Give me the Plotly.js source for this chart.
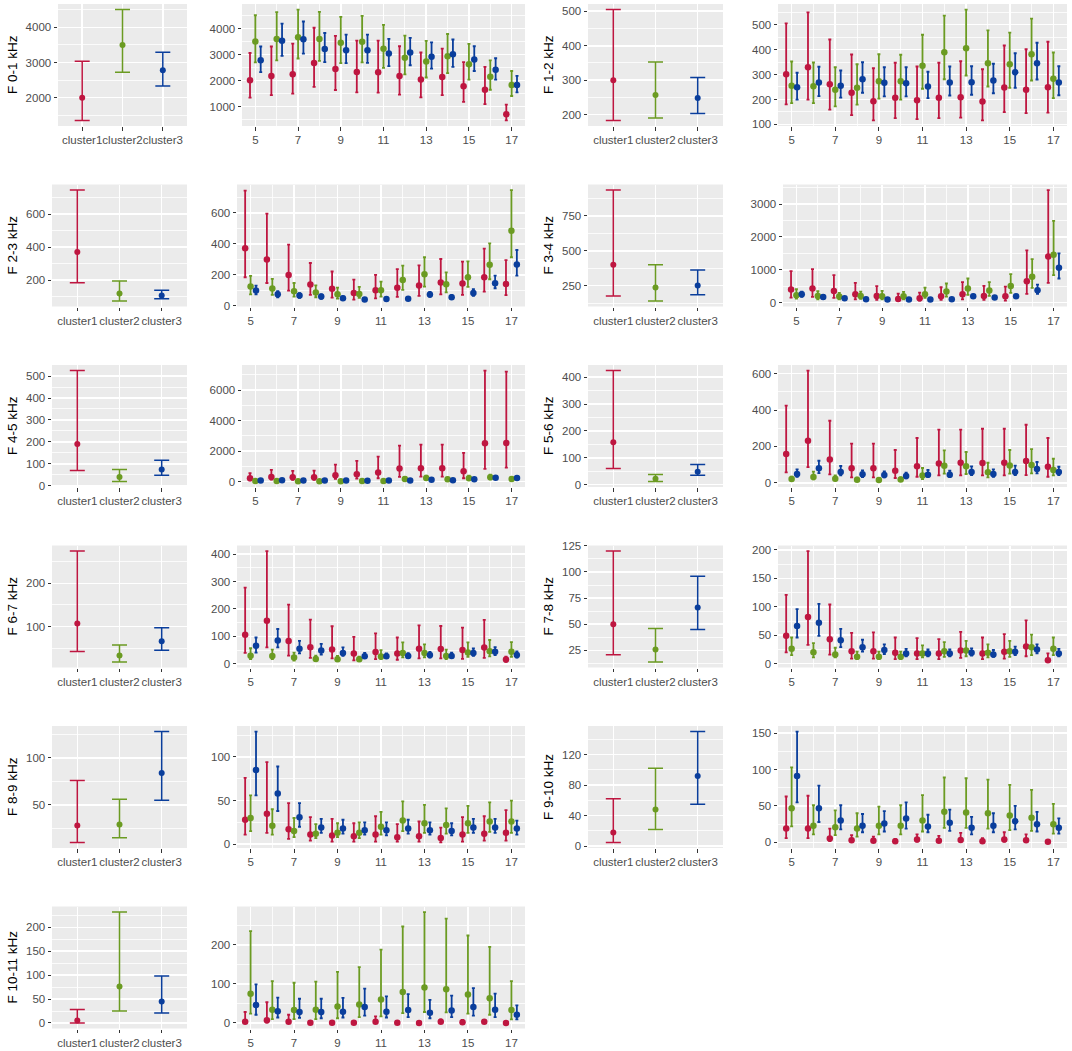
<!DOCTYPE html>
<html><head><meta charset="utf-8">
<script src="https://cdn.plot.ly/plotly-3.0.1.min.js"></script>
<style>html,body{margin:0;padding:0;background:#fff}#chart{width:1072px;height:1051px}</style>
</head><body><div id="chart"></div>
<script>
const hours = [5,6,7,8,9,10,11,12,13,14,15,16,17];
const clusters = ['cluster1','cluster2','cluster3'];
const bandNames = ['F 0-1 kHz','F 1-2 kHz','F 2-3 kHz','F 3-4 kHz','F 4-5 kHz','F 5-6 kHz','F 6-7 kHz','F 7-8 kHz','F 8-9 kHz','F 9-10 kHz','F 10-11 kHz'];

// ---- F 0-1 kHz (rows: cluster1, cluster2, cluster3; columns: hours) ----
const f01Mean = [[2010,2180,2240,2680,2450,2330,2320,2180,2040,2140,1780,1650,710],[3500,3600,3670,3600,3450,3490,3220,2880,2730,2940,2630,2150,1830],[2780,3530,3590,3210,3170,3170,3040,3080,2920,3010,2810,2420,1830]];
const f01Low  = [[1350,1440,1500,1760,1640,1550,1540,1460,1360,1440,1180,1100,470],[2700,2780,2850,2760,2670,2700,2490,2240,2120,2290,2040,1650,1410],[2330,2950,3040,2710,2670,2680,2560,2590,2460,2530,2370,2040,1550]];
const f01High = [[3060,3310,3420,4030,3720,3540,3540,3320,3080,3230,2710,2530,1080],[4510,4630,4730,4640,4450,4490,4140,3730,3530,3790,3410,2780,2370],[3310,4190,4270,3830,3770,3770,3600,3640,3470,3580,3320,2860,2180]];
const f01AllMean = [2000,3500,2780], f01AllLow = [1350,2720,2330], f01AllHigh = [3040,4510,3290];

// ---- F 1-2 kHz ----
const f12Mean = [[301,329,261,227,193,207,197,207,209,192,248,239,249],[255,253,239,247,273,273,335,389,405,345,341,381,283],[249,268,255,281,267,265,252,268,269,276,309,345,268]];
const f12Low  = [[180,199,159,137,116,125,121,125,127,116,149,145,147],[185,185,172,179,203,199,243,281,296,252,247,276,205],[199,213,207,227,212,212,205,216,219,225,247,280,217]];
const f12High = [[505,549,440,380,325,347,332,347,353,321,416,401,431],[352,348,329,341,381,379,459,536,560,477,468,524,388],[307,331,316,349,329,329,311,332,333,343,385,427,333]];
const f12AllMean = [300,257,248], f12AllLow = [183,190,203], f12AllHigh = [505,353,308];

// ---- F 2-3 kHz ----
const f23Mean = [[372,299,200,138,110,84,101,118,131,151,144,185,142],[125,112,95,86,75,77,101,168,204,140,185,265,486],[99,75,67,60,49,41,45,47,73,56,84,146,267]];
const f23Low  = [[185,148,99,71,54,41,49,58,65,75,71,92,69],[75,71,60,56,47,52,60,103,125,88,123,172,314],[75,56,52,45,39,32,37,39,58,45,65,114,196]];
const f23High = [[744,596,396,277,222,170,200,237,262,303,286,370,295],[194,174,148,133,118,123,157,260,314,217,288,404,748],[131,95,82,75,62,52,56,58,90,69,108,196,361]];
const f23AllMean = [370,120,108], f23AllLow = [185,75,88], f23AllHigh = [745,195,140];

// ---- F 3-4 kHz ----
const f34Mean = [[398,429,357,255,204,112,133,194,255,204,194,653,1408],[224,204,184,204,194,194,255,337,429,367,510,786,1459],[255,173,133,102,92,92,92,102,194,153,194,378,1061]];
const f34Low  = [[153,173,143,102,82,51,61,82,102,82,61,265,602],[122,102,102,112,102,102,143,184,235,204,296,449,837],[173,112,92,71,61,61,61,71,143,112,143,265,735]];
const f34High = [[959,1020,837,602,500,276,306,469,622,510,490,1592,3429],[408,347,296,337,357,327,459,582,735,622,867,1327,2490],[337,224,173,133,122,112,122,133,245,194,245,551,1500]];
const f34AllMean = [400,237,250], f34AllLow = [175,140,185], f34AllHigh = [935,400,362];

// ---- F 4-5 kHz ----
const f45Mean = [[219,307,285,285,416,482,591,854,876,876,679,2518,2540],[44,35,30,30,30,38,40,175,241,153,219,285,175],[70,90,75,70,65,60,65,70,120,90,150,260,240]];
const f45Low  = [[88,131,110,110,175,197,219,307,328,328,219,832,920],[15,12,10,10,10,12,13,66,110,66,110,153,88],[45,60,50,45,42,40,42,45,85,60,105,190,175]];
const f45High = [[547,766,700,723,1117,1358,1642,2365,2430,2430,1883,7291,7226],[110,95,80,80,80,95,100,307,394,263,394,460,263],[105,130,110,105,100,90,100,105,165,130,210,350,320]];
const f45AllMean = [190,40,75], f45AllLow = [70,20,48], f45AllHigh = [525,75,117];

// ---- F 5-6 kHz ----
const f56Mean = [[158,231,128,79,79,66,90,106,110,108,110,119,88],[20,31,22,17,15,18,40,94,90,57,95,97,70],[48,79,59,46,42,37,44,44,59,48,59,75,59]];
const f56Low  = [[57,86,46,29,29,26,33,40,40,40,40,42,33],[11,18,13,9,7,11,20,50,48,29,50,51,40],[33,53,40,31,29,24,31,31,42,33,42,51,42]];
const f56High = [[424,617,341,215,215,180,246,292,292,297,297,319,246],[33,61,40,28,26,29,81,178,169,110,180,185,132],[73,121,92,68,62,55,70,66,90,73,94,114,88]];
const f56AllMean = [158,22,48], f56AllLow = [60,12,35], f56AllHigh = [425,38,75];

// ---- F 6-7 kHz ----
const f67Mean = [[106,157,83,61,52,38,43,38,55,54,51,60,16],[30,29,23,18,17,17,27,40,40,29,41,46,44],[66,85,55,49,40,28,28,29,32,29,40,44,32]];
const f67Low  = [[40,60,30,22,20,13,17,15,20,20,18,22,7],[17,17,12,11,10,10,17,24,24,17,26,27,26],[41,60,38,34,29,21,21,21,23,22,29,32,23]];
const f67High = [[278,411,216,161,137,98,111,96,140,138,132,160,26],[57,52,41,30,29,26,50,78,71,52,78,87,79],[96,127,84,73,60,40,38,39,44,41,56,61,45]];
const f67AllMean = [107,33,66], f67AllLow = [42,18,45], f67AllHigh = [275,57,97];

// ---- F 7-8 kHz ----
const f78Mean = [[49,82,43,22,22,19,18,18,23,18,21,30,6],[26,20,16,12,12,12,18,22,23,19,22,29,26],[66,72,41,29,24,18,18,18,19,16,21,25,18]];
const f78Low  = [[20,33,16,9,9,8,8,8,10,8,9,13,3],[15,11,11,8,8,8,11,12,13,11,12,15,15],[46,49,29,21,17,13,13,13,14,12,15,18,13]];
const f78High = [[121,198,104,54,55,46,45,43,56,46,52,76,18],[46,36,28,21,21,21,32,38,40,34,40,51,46],[96,105,61,42,34,26,25,25,27,24,30,34,26]];
const f78AllMean = [50,26,66], f78AllLow = [21,14,45], f78AllHigh = [120,46,96];

// ---- F 8-9 kHz ----
const f89Mean = [[28,35,17,11,10,9,11,8,9,7,11,12,13],[30,21,15,12,13,13,20,27,24,22,24,26,26],[85,58,31,19,18,16,16,18,16,15,19,19,18]];
const f89Low  = [[11,13,6,4,3,3,3,3,3,2,3,4,4],[15,11,8,7,8,7,11,15,13,12,13,14,13],[56,38,20,13,12,11,10,12,11,10,13,13,11]];
const f89High = [[76,94,47,31,29,24,32,23,26,19,31,32,39],[56,40,30,23,24,25,37,49,45,41,44,48,50],[129,89,47,29,28,25,25,28,25,24,29,29,27]];
const f89AllMean = [28,29,84], f89AllLow = [10,15,55], f89AllHigh = [76,56,128];

// ---- F 9-10 kHz ----
const f910Mean = [[19,19,5.5,3,2.5,1.5,4,2.5,3.5,1.5,4,3,1],[47,23,21,19,23,23,30,42,41,40,37,34,25],[91,47,30,23,26,33,22,27,20,23,29,25,20]];
const f910Low  = [[6,6,2,1,0.5,0.3,1,0.5,1,0.3,1,0.8,0],[22,11,10,8,11,11,15,20,20,19,17,16,12],[55,28,18,14,15,19,14,16,11,14,18,15,12]];
const f910High = [[63,64,19,10,8,5,11,9,13,6,14,11,2],[103,51,44,40,49,51,65,89,88,86,79,72,53],[152,78,51,39,43,55,38,45,35,40,50,42,33]];
const f910AllMean = [18,48,92], f910AllLow = [5,22,55], f910AllHigh = [62,102,150];

// ---- F 10-11 kHz ----
const f1011Mean = [[3,7,3,0.5,0.3,0.3,3,0.5,0.2,3,2,3,0.2],[75,34,33,34,42,47,60,79,91,86,73,63,33],[46,30,28,28,29,41,29,33,26,32,41,34,21]];
const f1011Low  = [[0,1,0.3,0,0,0,0.3,0,0,0.3,0.2,0.3,0],[24,10,10,10,12,15,17,25,28,27,24,21,9],[21,14,13,12,14,19,14,15,12,15,19,15,9]];
const f1011High = [[28,53,21,4,2,1,17,4,1,9,8,8,1],[235,107,103,106,131,143,188,247,284,267,224,195,107],[99,65,62,62,64,88,68,74,59,70,89,75,45]];
const f1011AllMean = [5,76,45], f1011AllLow = [0,25,21], f1011AllHigh = [28,232,98];

// y tick steps (labels every step)
const smallStep = [1000,100,200,250,100,100,100,25,50,40,50];
const wideStep  = [1000,100,200,1000,2000,200,100,50,50,50,100];

// ---------------- build ----------------
const colors = ['#BE1640','#6B9B22','#0A3E9C'];
const bands = [
  [f01Mean,f01Low,f01High,f01AllMean,f01AllLow,f01AllHigh],
  [f12Mean,f12Low,f12High,f12AllMean,f12AllLow,f12AllHigh],
  [f23Mean,f23Low,f23High,f23AllMean,f23AllLow,f23AllHigh],
  [f34Mean,f34Low,f34High,f34AllMean,f34AllLow,f34AllHigh],
  [f45Mean,f45Low,f45High,f45AllMean,f45AllLow,f45AllHigh],
  [f56Mean,f56Low,f56High,f56AllMean,f56AllLow,f56AllHigh],
  [f67Mean,f67Low,f67High,f67AllMean,f67AllLow,f67AllHigh],
  [f78Mean,f78Low,f78High,f78AllMean,f78AllLow,f78AllHigh],
  [f89Mean,f89Low,f89High,f89AllMean,f89AllLow,f89AllHigh],
  [f910Mean,f910Low,f910High,f910AllMean,f910AllLow,f910AllHigh],
  [f1011Mean,f1011Low,f1011High,f1011AllMean,f1011AllLow,f1011AllHigh]
];

const W = 1072, H = 1051;
const smallLeftPx = [58,588,52,588,52,588,52,588,52,588,52];
const wideLeftPx  = [242,778,237,783,242,778,237,778,237,778,237];
const dodge = 0.25;

const tickFont = {family:'"Liberation Sans", Arial, sans-serif', size:11.5, color:'#4D4D4D'};
function axisBase(){
  return {showgrid:true, gridcolor:'#FFFFFF', gridwidth:1.6, zeroline:false, showline:false,
    ticks:'outside', ticklen:3.5, tickwidth:1, tickcolor:'#333333', tickfont:tickFont, fixedrange:true};
}
function yRange(lows, highs){
  const mn = Math.min(...lows.flat()), mx = Math.max(...highs.flat());
  const pad = (mx-mn)*0.05;
  return [mn-pad, mx+pad];
}

const traces = [];
const layout = {
  width:W, height:H, margin:{l:0,r:0,t:0,b:0}, paper_bgcolor:'#FFFFFF', plot_bgcolor:'#EBEBEB',
  showlegend:false, annotations:[]
};

bands.forEach((bd, b) => {
  const [mean, low, high, aMean, aLow, aHigh] = bd;
  const col = b % 2, row = Math.floor(b/2);
  const topPx = 4 + 180.5*row, botPx = topPx + 122;
  const yDom = [1 - botPx/H, 1 - topPx/H];
  const sIdx = 2*b+1, wIdx = 2*b+2;
  const sx = sIdx===1 ? 'x' : 'x'+sIdx, sy = sIdx===1 ? 'y' : 'y'+sIdx;
  const wx = 'x'+wIdx, wy = 'y'+wIdx;
  const smallRight = col===0 ? 187 : 723;
  const wideRight = col===0 ? 525 : 1067;

  // small (overall by cluster) panel
  clusters.forEach((c,k) => {
    traces.push({type:'scatter', mode:'markers', x:[c], y:[aMean[k]], xaxis:sx, yaxis:sy,
      marker:{color:colors[k], size:6},
      error_y:{type:'data', symmetric:false, array:[aHigh[k]-aMean[k]], arrayminus:[aMean[k]-aLow[k]],
        color:colors[k], thickness:1.5, width:7.5},
      hoverinfo:'x+y'});
  });
  // wide (by hour) panel
  clusters.forEach((c,k) => {
    traces.push({type:'scatter', mode:'markers', x:hours.map(h => h + (k-1)*dodge), y:mean[k], xaxis:wx, yaxis:wy,
      marker:{color:colors[k], size:6.5},
      error_y:{type:'data', symmetric:false, array:high[k].map((v,i)=>v-mean[k][i]), arrayminus:mean[k].map((v,i)=>v-low[k][i]),
        color:colors[k], thickness:1.8, width:1.5},
      name:c});
  });

  const sxKey = sIdx===1 ? 'xaxis' : 'xaxis'+sIdx, syKey = sIdx===1 ? 'yaxis' : 'yaxis'+sIdx;
  layout[sxKey] = Object.assign(axisBase(), {type:'category', categoryarray:clusters, range:[-0.6,2.6],
    tickangle:0, domain:[smallLeftPx[b]/W, smallRight/W], anchor:sy});
  layout[syKey] = Object.assign(axisBase(), {range:yRange([aLow],[aHigh]), dtick:smallStep[b], tick0:0,
    minor:{dtick:smallStep[b]/2, tick0:0, showgrid:true, gridcolor:'#FFFFFF', gridwidth:0.8, ticks:''},
    domain:yDom, anchor:sx});
  layout['xaxis'+wIdx] = Object.assign(axisBase(), {range:[4.375,17.625], dtick:2, tick0:5, tickangle:0,
    minor:{dtick:1, tick0:5, showgrid:true, gridcolor:'#FFFFFF', gridwidth:0.8, ticks:''},
    domain:[wideLeftPx[b]/W, wideRight/W], anchor:wy});
  layout['yaxis'+wIdx] = Object.assign(axisBase(), {range:yRange(low,high), dtick:wideStep[b], tick0:0,
    minor:{dtick:wideStep[b]/2, tick0:0, showgrid:true, gridcolor:'#FFFFFF', gridwidth:0.8, ticks:''},
    domain:yDom, anchor:wx});

  layout.annotations.push({text:bandNames[b], xref:'paper', yref:'paper', x:(col===0 ? 12 : 548)/W,
    y:(yDom[0]+yDom[1])/2, textangle:-90, showarrow:false, xanchor:'center', yanchor:'middle',
    font:{family:'"Liberation Sans", Arial, sans-serif', size:13.5, color:'#000000'}});
});

Plotly.newPlot('chart', traces, layout, {displayModeBar:false, staticPlot:true});
</script></body></html>
